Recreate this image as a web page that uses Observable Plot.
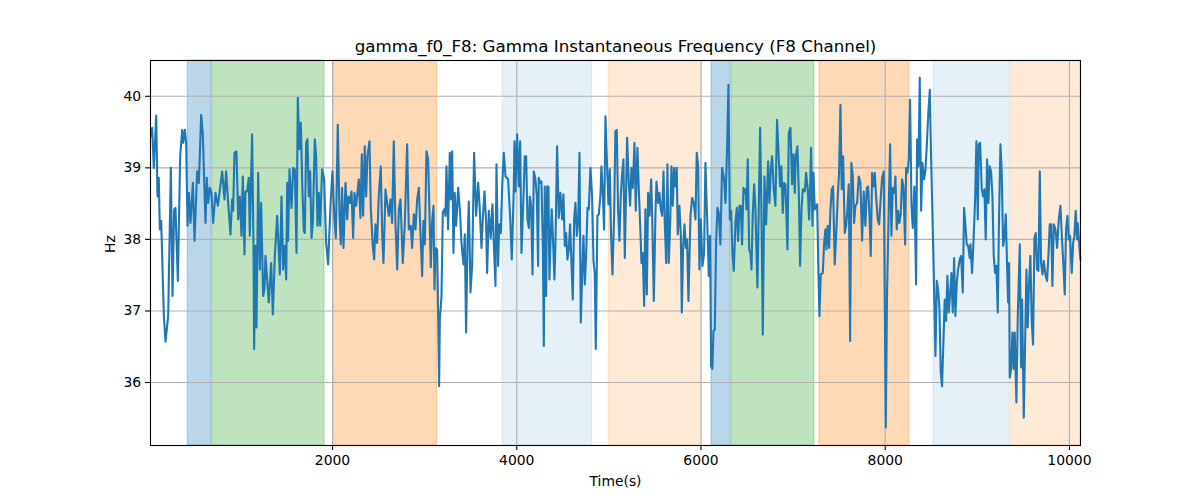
<!DOCTYPE html>
<html><head><meta charset="utf-8">
<script src="https://cdn.jsdelivr.net/npm/d3@7"></script>
<script src="https://cdn.jsdelivr.net/npm/@observablehq/plot@0.6"></script>
<style>body{margin:0;background:#fff} #chart svg{font-family:"DejaVu Sans"}</style>
</head><body><div id="chart"></div>
<script>
const chartTitle = "gamma_f0_F8: Gamma Instantaneous Frequency (F8 Channel)";
const xLabel = "Time(s)";
const yLabel = "Hz";
const xTicks = [2000, 4000, 6000, 8000, 10000];
const yTicks = [36, 37, 38, 39, 40];
const xDomain = [24, 10120];
const yDomain = [35.12, 40.5];

// shaded intervals (time)
const bandStart = [429, 694, 2014, 3848, 4999, 6114, 6331, 7286, 8524, 9367];
const bandEnd   = [683, 1913, 3136, 4818, 6013, 6320, 7231, 8263, 9352, 10120];
const bandKind  = ["A", "B", "C", "D", "E", "A", "B", "C", "D", "E"];

// [time, Hz] samples
const samples = [
[35,39.44],[42,39.56],[60,39.00],[86,39.73],[100,38.60],[114,38.86],[125,38.14],[140,38.26],[169,36.93],[187,36.57],[216,36.93],[245,39.00],[263,37.21],[281,38.42],[295,38.44],[321,37.42],[346,39.16],[368,39.53],[379,39.35],[397,39.53],[411,39.35],[426,38.19],[440,38.65],[458,38.23],[484,38.79],[502,37.98],[530,38.95],[549,38.79],[574,39.74],[592,39.47],[621,38.23],[635,38.86],[650,38.51],[668,38.72],[686,38.65],[704,38.23],[730,38.65],[755,38.47],[802,38.95],[827,38.56],[845,38.95],[867,38.51],[892,38.07],[910,38.56],[921,38.40],[936,39.21],[957,39.23],[976,38.28],[994,38.60],[1012,38.05],[1026,38.88],[1044,37.79],[1055,38.67],[1073,38.67],[1091,38.86],[1102,38.05],[1127,39.47],[1142,37.91],[1149,36.47],[1164,37.91],[1175,36.77],[1193,38.93],[1211,37.58],[1225,38.51],[1247,37.21],[1261,37.30],
[1272,37.77],[1308,37.12],[1334,37.67],[1352,36.95],[1374,37.77],[1399,38.33],[1428,37.51],[1446,38.60],[1464,37.58],[1482,37.91],[1497,37.44],[1508,38.79],[1518,37.98],[1533,38.98],[1555,38.44],[1573,39.00],[1591,38.98],[1609,37.81],[1623,39.98],[1641,39.26],[1656,39.63],[1670,38.84],[1688,38.12],[1699,38.09],[1714,39.35],[1728,39.40],[1743,38.60],[1757,38.95],[1772,38.02],[1786,38.23],[1808,39.40],[1822,39.16],[1837,38.19],[1851,38.65],[1866,38.19],[1887,38.98],[1909,38.84],[1931,37.95],[1952,37.65],[1978,38.47],[1999,38.95],[2021,38.28],[2036,38.02],[2057,39.60],[2076,38.33],[2090,37.93],[2104,38.72],[2119,37.88],[2141,38.79],[2159,38.28],[2173,38.60],[2191,38.51],[2206,38.67],[2224,38.02],[2238,38.65],[2256,38.47],[2271,38.65],[2285,38.84],[2303,38.30],[2318,39.19],[2332,38.33],[2350,39.30],[2365,38.60],[2379,39.16],[2401,39.37],[2416,38.42],[2437,37.91],[2452,37.72],[2466,38.21],[2484,37.95],[2502,38.60],[2524,39.02],[2539,38.09],[2553,37.67],
[2575,38.70],[2593,38.51],[2611,38.33],[2629,38.56],[2647,38.23],[2665,39.37],[2683,38.23],[2702,37.58],[2720,38.42],[2738,38.56],[2763,37.67],[2785,38.23],[2810,39.33],[2828,38.14],[2850,38.19],[2864,37.88],[2883,38.35],[2901,38.14],[2919,38.56],[2937,38.72],[2955,38.09],[2973,37.49],[2987,38.26],[3002,37.93],[3020,39.23],[3038,39.12],[3056,38.19],[3067,37.61],[3081,38.23],[3096,38.47],[3107,37.30],[3118,37.88],[3136,37.86],[3147,36.93],[3157,35.95],[3165,36.88],[3183,37.21],[3197,38.37],[3212,38.42],[3226,38.33],[3237,39.02],[3255,38.14],[3273,39.21],[3284,38.56],[3299,39.23],[3313,37.81],[3327,38.65],[3342,38.19],[3364,38.72],[3385,38.37],[3400,37.95],[3422,37.65],[3436,38.07],[3450,36.70],[3465,37.91],[3480,38.53],[3498,37.26],[3516,37.65],[3537,39.21],[3559,38.33],[3581,38.79],[3595,38.51],[3617,37.88],[3631,38.28],[3650,38.67],[3668,38.23],[3678,37.53],[3697,38.40],[3718,38.02],[3736,38.49],[3751,37.95],[3769,37.35],[3780,39.05],[3798,37.63],[3809,38.21],[3827,38.09],[3841,38.70],[3859,39.21],
[3878,38.88],[3906,38.84],[3928,38.33],[3946,37.72],[3968,38.70],[3975,39.37],[3986,38.67],[4004,39.47],[4022,38.74],[4037,39.37],[4051,37.81],[4073,38.60],[4087,39.16],[4102,39.16],[4116,38.28],[4131,38.16],[4142,38.60],[4156,38.47],[4171,37.51],[4185,38.95],[4203,38.84],[4218,38.60],[4232,37.63],[4239,38.86],[4254,38.79],[4268,38.81],[4283,37.95],[4294,36.51],[4304,38.74],[4319,37.21],[4330,38.74],[4344,38.74],[4355,37.44],[4366,37.95],[4380,38.42],[4395,37.95],[4409,37.44],[4420,37.95],[4438,39.30],[4456,38.30],[4474,38.65],[4493,38.28],[4507,38.63],[4522,37.91],[4536,38.09],[4550,37.72],[4565,37.86],[4579,38.21],[4594,37.67],[4608,37.16],[4623,38.28],[4637,38.51],[4652,38.05],[4666,38.23],[4681,39.21],[4695,36.84],[4710,37.49],[4724,38.05],[4739,37.37],[4753,37.77],[4768,38.44],[4782,38.42],[4800,39.00],[4818,38.60],[4833,37.70],[4847,37.53],[4858,36.47],[4876,38.33],[4891,38.35],[4909,38.63],[4919,39.02],[4934,38.65],[4948,38.14],[4963,39.72],[4977,39.16],[4995,38.49],[5010,38.98],[5024,38.05],[5039,37.51],[5057,38.33],[5071,39.51],[5086,39.53],[5100,38.42],[5115,37.98],[5129,38.60],[5144,38.91],[5158,39.12],[5173,37.74],
[5198,39.42],[5216,38.79],[5231,38.47],[5245,39.00],[5260,38.72],[5278,39.35],[5292,38.40],[5310,39.28],[5325,38.70],[5343,38.09],[5354,37.67],[5368,37.81],[5383,37.07],[5397,38.42],[5412,37.23],[5426,38.65],[5441,38.33],[5459,38.84],[5470,38.33],[5488,37.14],[5506,38.37],[5517,38.81],[5535,38.51],[5549,38.65],[5564,38.42],[5578,38.33],[5593,38.95],[5607,38.23],[5622,37.67],[5636,39.05],[5650,37.67],[5665,38.19],[5679,39.02],[5694,38.47],[5708,39.00],[5723,38.74],[5737,39.00],[5748,38.07],[5766,38.47],[5781,38.07],[5792,36.98],[5806,37.88],[5821,38.21],[5835,37.88],[5849,38.00],[5864,37.14],[5886,38.33],[5904,38.58],[5922,38.51],[5940,38.28],[5954,39.21],[5969,39.02],[5983,37.58],[5998,38.28],[6016,37.63],[6034,37.81],[6048,39.07],[6067,38.30],[6085,37.49],[6099,38.05],[6110,36.23],[6124,36.19],[6135,36.72],[6150,36.74],[6164,37.95],[6179,38.44],[6193,38.37],[6211,37.93],[6229,39.00],[6251,38.84],[6266,38.51],[6284,39.30],[6298,40.16],[6313,38.28],[6327,38.40],[6342,37.81],[6356,37.56],[6374,38.23],[6389,38.44],[6403,37.98],[6418,38.47],[6432,38.47],[6446,37.93],[6461,38.72],[6475,38.65],
[6483,38.70],[6494,38.42],[6508,39.12],[6523,37.86],[6537,37.81],[6548,37.58],[6562,38.35],[6577,38.77],[6591,38.42],[6613,37.33],[6627,38.42],[6642,39.56],[6656,38.42],[6671,36.67],[6689,38.88],[6707,38.21],[6718,38.65],[6729,39.09],[6743,38.51],[6758,38.98],[6772,39.16],[6790,38.70],[6808,38.47],[6826,39.67],[6845,39.12],[6859,38.74],[6873,39.02],[6888,38.37],[6902,38.79],[6917,38.77],[6939,37.86],[6953,39.49],[6971,39.56],[6989,38.77],[7004,39.19],[7018,38.65],[7029,39.16],[7047,39.30],[7062,38.65],[7076,37.63],[7091,38.42],[7105,38.70],[7127,38.67],[7141,38.93],[7159,38.70],[7174,38.28],[7185,38.72],[7195,39.28],[7210,38.19],[7221,38.93],[7235,38.42],[7250,38.47],[7261,38.49],[7275,37.53],[7286,36.93],[7300,37.51],[7322,37.53],[7337,37.95],[7351,38.14],[7362,37.86],[7376,38.19],[7391,37.88],[7405,38.40],[7420,38.70],[7434,38.74],[7452,37.65],[7467,38.05],[7485,38.60],[7499,38.93],[7514,39.88],[7528,38.70],[7543,39.16],[7561,38.09],[7575,38.19],[7590,38.42],[7604,38.77],[7619,36.58],[7633,39.07],[7648,38.88],[7662,38.23],[7677,38.47],[7695,38.51],[7713,38.88],[7731,38.79],[7749,37.98],[7767,38.67],
[7785,38.19],[7800,38.72],[7814,38.74],[7829,38.35],[7843,37.77],[7858,38.93],[7872,38.74],[7887,38.93],[7901,38.60],[7919,38.28],[7934,38.21],[7948,38.51],[7966,38.86],[7984,38.95],[8006,35.37],[8020,37.26],[8039,38.47],[8053,39.33],[8067,38.05],[8082,38.72],[8100,38.65],[8111,38.88],[8125,38.14],[8140,38.40],[8154,38.23],[8169,38.37],[8183,38.84],[8198,38.74],[8216,37.93],[8227,39.00],[8241,38.93],[8256,39.12],[8270,39.95],[8285,38.47],[8299,38.16],[8317,38.74],[8335,37.37],[8346,39.40],[8361,39.02],[8375,40.26],[8390,38.40],[8404,39.07],[8422,38.84],[8437,38.98],[8451,39.30],[8466,39.72],[8484,40.09],[8498,39.14],[8513,38.33],[8527,37.53],[8545,36.37],[8560,37.42],[8574,37.30],[8589,37.02],[8603,36.14],[8617,35.95],[8632,36.58],[8646,37.16],[8661,36.86],[8675,37.49],[8690,36.98],[8704,37.23],[8719,37.53],[8733,36.98],[8748,37.74],[8762,36.93],[8777,37.40],[8791,37.58],[8809,37.72],[8824,37.77],[8842,37.26],[8856,38.44],[8871,38.19],[8885,37.93],[8900,37.91],[8918,37.74],
[8925,37.93],[8943,37.53],[8961,38.05],[8976,38.56],[8990,39.37],[9005,38.28],[9016,39.33],[9030,39.35],[9048,38.70],[9063,38.60],[9077,38.70],[9091,38.00],[9106,39.12],[9120,38.51],[9135,39.02],[9149,38.95],[9164,38.60],[9178,37.77],[9193,37.53],[9207,37.63],[9222,36.98],[9236,38.33],[9251,39.33],[9265,38.93],[9280,37.91],[9294,38.02],[9309,38.35],[9323,37.63],[9334,37.12],[9345,37.67],[9352,36.07],[9367,36.19],[9381,36.70],[9395,36.19],[9406,36.70],[9424,35.72],[9439,36.93],[9461,37.93],[9475,36.21],[9486,37.16],[9504,35.51],[9515,36.28],[9533,37.58],[9547,36.77],[9562,37.40],[9576,37.77],[9591,36.84],[9605,36.53],[9620,38.02],[9634,38.09],[9649,37.58],[9663,37.56],[9678,38.95],[9692,37.67],[9707,37.51],[9721,37.70],[9739,37.51],[9757,37.42],[9775,37.86],[9786,38.21],[9801,38.21],[9815,37.35],[9830,38.21],[9848,38.14],[9866,37.88],[9884,38.28],[9902,38.47],[9916,38.09],[9931,37.72],[9949,37.23],[9963,38.14],[9978,38.33],[9992,38.00],[10007,38.05],[10025,37.53],[10040,37.95],[10054,38.05],[10068,38.40],[10083,38.00],[10090,38.23],[10105,37.95],[10119,37.72]
];

// styling (kept separate from data)
const kindStyle = {
  A: {color: "#1f77b4", alpha: 0.3},
  B: {color: "#2ca02c", alpha: 0.3},
  C: {color: "#ff7f0e", alpha: 0.3},
  D: {color: "#1f77b4", alpha: 0.11},
  E: {color: "#ff7f0e", alpha: 0.165}
};

const bands = bandStart.map((s, i) => ({start: s, end: bandEnd[i], kind: bandKind[i]}));
const series = samples.map(([t, v]) => ({t, v}));

const bandMarks = bands.map(b => Plot.rect([b], {
  x1: "start", x2: "end",
  fill: kindStyle[b.kind].color, fillOpacity: kindStyle[b.kind].alpha,
  stroke: kindStyle[b.kind].color, strokeOpacity: kindStyle[b.kind].alpha, strokeWidth: 1.1
}));

const chart = Plot.plot({
  width: 1200, height: 500,
  marginLeft: 150, marginRight: 120, marginTop: 60, marginBottom: 55,
  style: {fontFamily: "DejaVu Sans", fontSize: "13.9px", color: "black", background: "white", overflow: "visible"},
  x: {domain: xDomain},
  y: {domain: yDomain},
  marks: [
    ...bandMarks,
    Plot.gridX(xTicks, {stroke: "#b0b0b0", strokeOpacity: 1, strokeWidth: 1.1}),
    Plot.gridY(yTicks, {stroke: "#b0b0b0", strokeOpacity: 1, strokeWidth: 1.1}),
    Plot.line(series, {x: "t", y: "v", stroke: "#1f77b4", strokeWidth: 2.1, strokeLinejoin: "round", strokeLinecap: "square"}),
    Plot.frame({stroke: "black", strokeWidth: 1.1}),
    Plot.axisX(xTicks, {tickSize: 4.9, tickPadding: 4.5, strokeWidth: 1.1, fontSize: 13.9, label: null, tickFormat: d => String(d)}),
    Plot.axisY(yTicks, {tickSize: 4.9, tickPadding: 4.5, strokeWidth: 1.1, fontSize: 13.9, label: null, tickFormat: d => String(d)}),
    Plot.text([chartTitle], {frameAnchor: "top", lineAnchor: "middle", dy: -14, fontSize: 16.7, text: d => d, fill: "black"}),
    Plot.text([xLabel], {frameAnchor: "bottom", lineAnchor: "middle", dy: 36, fontSize: 13.9, text: d => d, fill: "black"}),
    Plot.text([yLabel], {frameAnchor: "left", lineAnchor: "middle", dx: -40, rotate: -90, fontSize: 13.9, text: d => d, fill: "black"})
  ]
});
document.getElementById("chart").appendChild(chart);
</script></body></html>
